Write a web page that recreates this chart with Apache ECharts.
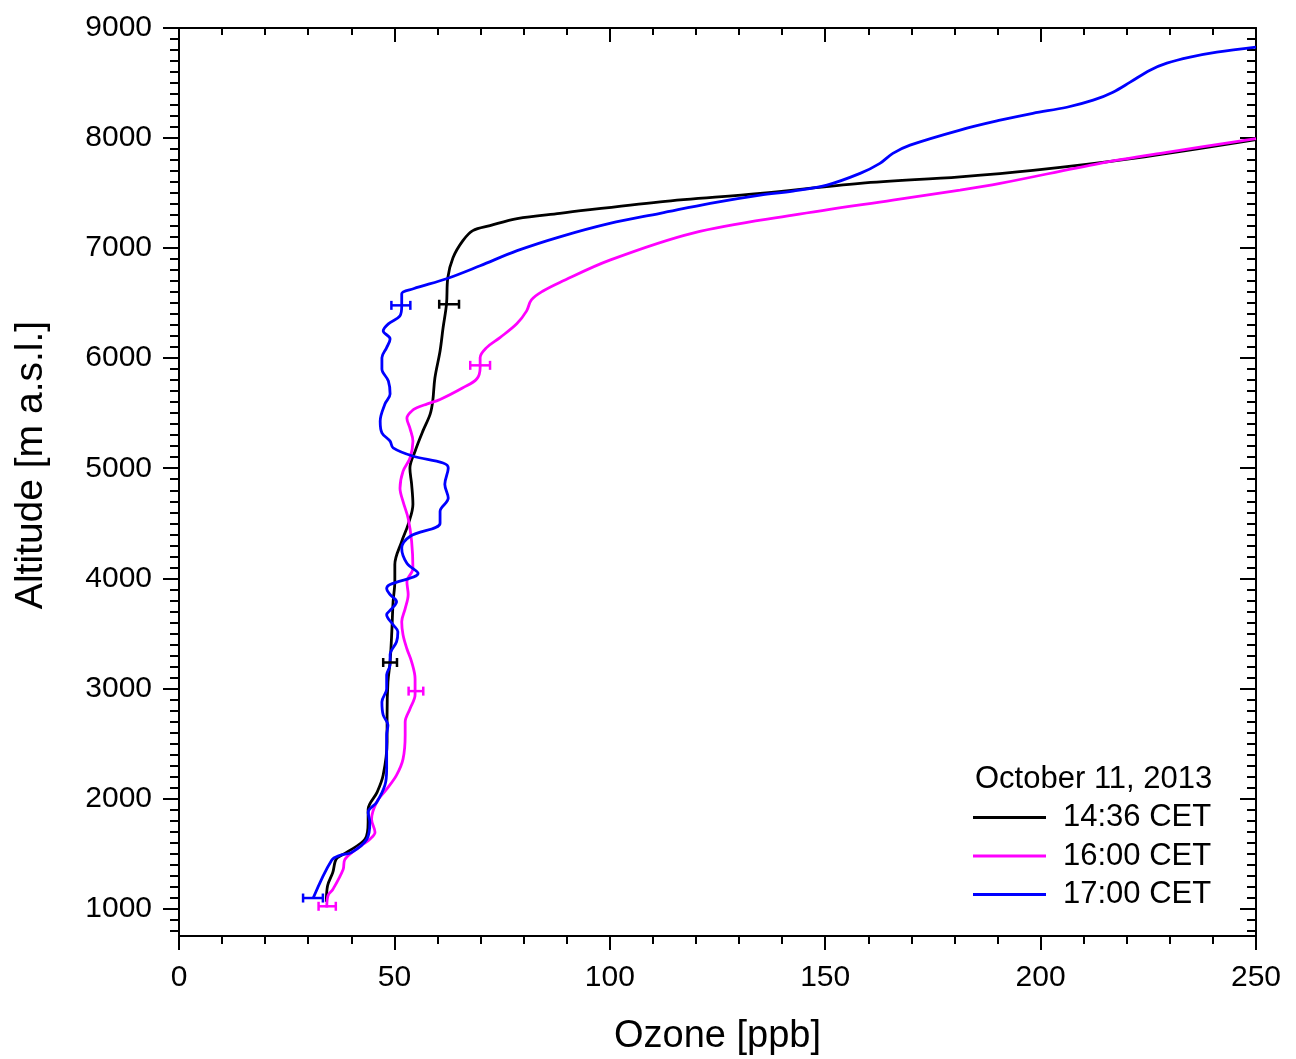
<!DOCTYPE html>
<html><head><meta charset="utf-8">
<script src="https://cdn.jsdelivr.net/npm/echarts@6/dist/echarts.min.js"></script>
<style>html,body{margin:0;padding:0;background:#fff}#c{width:1296px;height:1059px}</style>
</head><body><div id="c"></div>
<script>
// ---------- DATA ----------
const seriesNames = ['14:36 CET', '16:00 CET', '17:00 CET'];
const legendTitle = 'October 11, 2013';
const xAxisTitle = 'Ozone [ppb]';
const yAxisTitle = 'Altitude [m a.s.l.]';
const xTickLabels = [0, 50, 100, 150, 200, 250];
const yTickLabels = [1000, 2000, 3000, 4000, 5000, 6000, 7000, 8000, 9000];

// 14:36 CET (black)
const ozone1436 = [34.2, 34.5, 35.7, 36.2, 36.7, 38.9, 43.2, 43.9, 43.9, 46.0, 47.4, 48.3, 48.3, 48.5, 49.0, 49.4, 49.7, 50.1, 50.1, 51.7, 53.2, 54.3, 54.0, 53.6, 54.8, 56.6, 58.3, 58.9, 59.4, 60.6, 61.3, 62.1, 62.4, 63.6, 65.9, 68.2, 72.2, 78.5, 88.4, 111.7, 134.9, 158.1, 181.3, 198.2, 221.5, 250.0];
const alt1436   = [1060, 1209, 1328, 1420, 1460, 1510, 1630, 1783, 1900, 2057, 2212, 2512, 2758, 3059, 3241, 3515, 3788, 3970, 4125, 4335, 4490, 4672, 4854, 5000, 5155, 5337, 5492, 5610, 5820, 6066, 6276, 6494, 6731, 6913, 7068, 7159, 7205, 7269, 7316, 7421, 7497, 7588, 7648, 7706, 7815, 7985];

// 16:00 CET (magenta)
const ozone1600 = [34.3, 34.6, 35.7, 38.1, 38.5, 42.4, 44.3, 45.5, 44.7, 45.9, 48.2, 50.5, 52.0, 52.5, 52.5, 53.6, 54.8, 54.8, 54.0, 52.9, 52.0, 51.7, 52.5, 53.2, 52.9, 54.3, 54.0, 53.2, 52.0, 51.3, 52.0, 53.6, 54.3, 53.6, 52.9, 54.0, 55.2, 57.5, 60.6, 65.9, 69.1, 69.9, 69.9, 71.4, 74.5, 78.4, 80.7, 81.8, 84.5, 88.5, 100.0, 119.3, 142.5, 165.7, 181.3, 190.6, 213.8, 229.3, 250.0];
const alt1600   = [1010, 1118, 1173, 1355, 1446, 1574, 1629, 1692, 1811, 1966, 2084, 2212, 2357, 2576, 2695, 2813, 2941, 3086, 3241, 3360, 3487, 3606, 3724, 3852, 3970, 4089, 4335, 4544, 4699, 4818, 4972, 5091, 5246, 5364, 5455, 5519, 5549, 5583, 5625, 5731, 5811, 5914, 6005, 6096, 6187, 6312, 6430, 6530, 6610, 6690, 6891, 7137, 7300, 7437, 7527, 7588, 7770, 7870, 7995];

// 17:00 CET (blue)
const ozone1700 = [31.1, 35.4, 37.4, 40.1, 43.6, 44.3, 43.9, 45.9, 47.8, 48.2, 48.2, 48.5, 47.4, 47.1, 48.2, 48.2, 49.0, 49.0, 50.5, 50.8, 49.7, 48.2, 49.4, 50.5, 49.0, 48.2, 49.0, 55.5, 52.9, 51.7, 53.6, 60.6, 60.6, 62.5, 61.7, 62.5, 61.3, 54.4, 49.7, 49.0, 47.1, 46.7, 47.8, 49.0, 48.6, 47.1, 47.1, 48.2, 49.0, 47.4, 48.6, 51.3, 51.7, 51.7, 54.4, 62.1, 69.9, 78.5, 88.4, 100.0, 111.7, 123.3, 134.9, 142.5, 150.4, 158.1, 162.7, 165.7, 169.7, 181.3, 190.6, 198.2, 206.1, 212.2, 216.8, 220.8, 225.4, 229.3, 234.7, 240.9, 250.0];
const alt1700   = [1090, 1437, 1483, 1510, 1629, 1783, 1874, 1966, 2120, 2266, 2576, 2667, 2758, 2877, 2995, 3123, 3214, 3305, 3424, 3515, 3578, 3669, 3724, 3788, 3852, 3906, 3943, 4046, 4137, 4273, 4380, 4501, 4608, 4729, 4854, 5003, 5048, 5109, 5185, 5246, 5322, 5428, 5583, 5674, 5793, 5902, 6005, 6096, 6175, 6248, 6312, 6385, 6476, 6585, 6631, 6722, 6840, 6977, 7103, 7225, 7316, 7407, 7482, 7518, 7573, 7679, 7770, 7861, 7936, 8073, 8162, 8225, 8280, 8344, 8417, 8508, 8617, 8681, 8736, 8781, 8827];

// error bars: [ozone centre, altitude, half width]
const err1436 = [[62.7, 6490, 2.3], [49.0, 3235, 1.6]];
const err1600 = [[34.4, 1020, 2.0], [55.0, 2975, 1.7], [69.9, 5935, 2.3]];
const err1700 = [[31.1, 1095, 2.3], [51.5, 6480, 2.2]];

const colors = ['#000000', '#ff00ff', '#0000ff'];

// ---------- BUILD ----------
const zip = (xs, ys) => xs.map((x, i) => [x, ys[i]]);
const FONT = '"Liberation Sans", Arial, sans-serif';
const Y_MIN = 750, Y_MAX = 9000;
const yMinor = [];
for (let v = 800; v < Y_MAX; v += 100) if (v % 1000 !== 0) yMinor.push(v);

function errSeries(data, color) {
  return {
    type: 'custom',
    data: data,
    z: 5,
    renderItem: function (params, api) {
      const x = api.value(0), y = api.value(1), e = api.value(2);
      const p1 = api.coord([x - e, y]), p2 = api.coord([x + e, y]);
      const h = 4.5;
      const st = { stroke: color, lineWidth: 2.5 };
      return {
        type: 'group',
        children: [
          { type: 'line', shape: { x1: p1[0], y1: p1[1], x2: p2[0], y2: p2[1] }, style: st },
          { type: 'line', shape: { x1: p1[0], y1: p1[1] - h, x2: p1[0], y2: p1[1] + h }, style: st },
          { type: 'line', shape: { x1: p2[0], y1: p2[1] - h, x2: p2[0], y2: p2[1] + h }, style: st }
        ]
      };
    }
  };
}

const axisLineStyle = { color: '#000', width: 2 };
const lineSeries = (name, data, color) => ({
  name: name, type: 'line', data: data, showSymbol: false, smooth: 0.35,
  lineStyle: { color: color, width: 2.8 }, itemStyle: { color: color }, z: 3
});

const option = {
  animation: false,
  backgroundColor: '#fff',
  textStyle: { fontFamily: FONT },
  grid: { left: 179, right: 40, top: 28, bottom: 123, containLabel: false, outerBoundsMode: 'none' },
  title: {
    text: legendTitle, left: 975, top: 764, padding: 0,
    textStyle: { fontFamily: FONT, fontSize: 31, fontWeight: 'normal', color: '#000' }
  },
  legend: {
    orient: 'vertical', left: 973, top: 802, padding: 0,
    icon: 'rect', itemWidth: 73, itemHeight: 3, itemGap: 7.5,
    selectedMode: false,
    data: seriesNames,
    textStyle: { fontFamily: FONT, fontSize: 31, color: '#000', lineHeight: 31, padding: [0, 0, 0, 12] }
  },
  xAxis: [
    {
      type: 'value', position: 'bottom', min: 0, max: 250, interval: 50,
      name: xAxisTitle, nameLocation: 'middle', nameGap: 82,
      nameTextStyle: { fontFamily: FONT, fontSize: 38, color: '#000' },
      axisLine: { show: true, lineStyle: axisLineStyle },
      axisTick: { show: true, length: 14, lineStyle: { color: '#000', width: 2 } },
      minorTick: { show: true, splitNumber: 5, length: 8, lineStyle: { color: '#000', width: 2 } },
      axisLabel: { fontFamily: FONT, fontSize: 30, color: '#000', margin: 27,
        customValues: xTickLabels, formatter: v => String(v) },
      splitLine: { show: false }, minorSplitLine: { show: false }
    },
    {
      type: 'value', position: 'top', min: 0, max: 250, interval: 50,
      axisLine: { show: true, lineStyle: axisLineStyle },
      axisTick: { show: true, inside: true, length: 14, lineStyle: { color: '#000', width: 2 } },
      minorTick: { show: true, splitNumber: 5, length: 7, lineStyle: { color: '#000', width: 2 } },
      axisLabel: { show: false },
      splitLine: { show: false }
    }
  ],
  yAxis: [
    {
      type: 'value', position: 'left', min: Y_MIN, max: Y_MAX,
      name: yAxisTitle, nameLocation: 'middle', nameGap: 128,
      nameTextStyle: { fontFamily: FONT, fontSize: 39, color: '#000', padding: [0, 0, 0, 34] },
      axisLine: { show: true, lineStyle: axisLineStyle },
      axisTick: { show: true, length: 16, customValues: yTickLabels, lineStyle: { color: '#000', width: 2 } },
      axisLabel: { fontFamily: FONT, fontSize: 30, color: '#000', margin: 27, customValues: yTickLabels,
        formatter: v => String(v) },
      splitLine: { show: false }
    },
    {
      type: 'value', position: 'left', min: Y_MIN, max: Y_MAX,
      axisLine: { show: false },
      axisTick: { show: true, length: 9, customValues: yMinor, lineStyle: { color: '#000', width: 2 } },
      axisLabel: { show: false },
      splitLine: { show: false }
    },
    {
      type: 'value', position: 'right', min: Y_MIN, max: Y_MAX,
      axisLine: { show: true, lineStyle: axisLineStyle },
      axisTick: { show: true, inside: true, length: 16, customValues: yTickLabels, lineStyle: { color: '#000', width: 2 } },
      axisLabel: { show: false },
      splitLine: { show: false }
    },
    {
      type: 'value', position: 'right', min: Y_MIN, max: Y_MAX,
      axisLine: { show: false },
      axisTick: { show: true, inside: true, length: 9, customValues: yMinor, lineStyle: { color: '#000', width: 2 } },
      axisLabel: { show: false },
      splitLine: { show: false }
    }
  ],
  series: [
    lineSeries(seriesNames[0], zip(ozone1436, alt1436), colors[0]),
    lineSeries(seriesNames[1], zip(ozone1600, alt1600), colors[1]),
    lineSeries(seriesNames[2], zip(ozone1700, alt1700), colors[2]),
    errSeries(err1436, colors[0]),
    errSeries(err1600, colors[1]),
    errSeries(err1700, colors[2])
  ]
};

const chart = echarts.init(document.getElementById('c'), null, { renderer: 'canvas' });
chart.setOption(option);
</script>
</body></html>
